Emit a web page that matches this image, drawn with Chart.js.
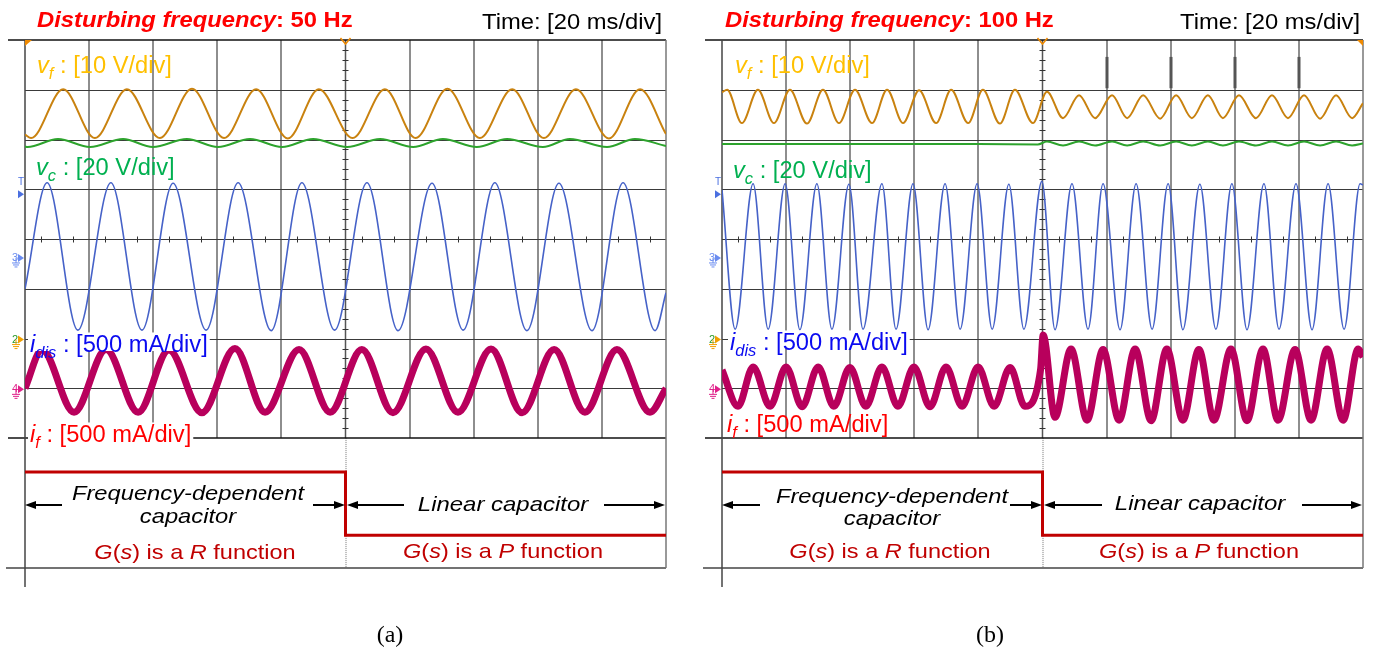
<!DOCTYPE html>
<html>
<head>
<meta charset="utf-8">
<title>Disturbing frequency scope captures</title>
<script src="https://cdn.jsdelivr.net/npm/chart.js"></script>
<style>
    body { margin: 0; background: #fff; }
    .panel { position: absolute; top: 0; width: 690px; height: 652px; }
</style>
</head>
<body>
<div class="panel" style="left:0"><canvas id="scope50" width="690" height="652"></canvas></div>
<div class="panel" style="left:690px"><canvas id="scope100" width="690" height="652"></canvas></div>
<script>
// time in ms (20 ms/div), levels in screen divisions (+4 top of screen, -4 bottom)
const timeGrid = [0, 20, 40, 60, 80, 100, 120, 140, 160, 180, 200];
const levelGrid = [4, 3, 2, 1, 0, -1, -2, -3, -4];
const stripBottom = -6.61;

// 50 Hz capture : turning points of each trace
const vfTime50 = [0, 1.9, 11.9, 21.8, 31.8, 42.1, 52.1, 62.1, 72.1, 82.0, 91.7, 102.2, 112.3, 121.9, 131.8, 141.9, 152.0, 161.9, 171.9, 182.2, 191.9, 200];
const vfLevel50 = [2.10, 2.03, 3.01, 2.03, 3.01, 2.03, 3.02, 2.03, 3.01, 2.02, 3.01, 2.03, 3.01, 2.03, 3.02, 2.03, 3.01, 2.03, 3.01, 2.02, 3.01, 2.11];
const vcTime50 = [0, 0.8, 10.3, 20.3, 30.6, 39.9, 50.5, 60.2, 70.2, 80.2, 89.9, 100.5, 110.8, 121.1, 130.4, 141.0, 150.4, 161.6, 170.0, 181.6, 190.3, 200];
const vcLevel50 = [1.86, 1.85, 2.01, 1.85, 2.01, 1.85, 2.01, 1.85, 2.01, 1.85, 2.01, 1.85, 2.01, 1.85, 2.01, 1.85, 2.01, 1.85, 2.01, 1.85, 2.01, 1.87];
const idisTime50 = [0, 6.9, 16.5, 26.8, 36.5, 46.2, 56.5, 66.5, 76.8, 86.4, 96.6, 106.7, 116.4, 127.0, 136.7, 146.6, 156.6, 166.6, 176.9, 186.6, 196.6, 200];
const idisLevel50 = [-1.00, 1.13, -1.83, 1.13, -1.83, 1.12, -1.83, 1.13, -1.84, 1.13, -1.83, 1.13, -1.84, 1.12, -1.83, 1.13, -1.84, 1.12, -1.84, 1.13, -1.84, -1.08];
const ifTime50 = [0, 5.3, 15.3, 25.3, 35.3, 44.9, 55.2, 65.5, 74.9, 85.5, 95.2, 105.1, 114.8, 125.1, 135.1, 145.4, 155.1, 165.1, 174.7, 184.7, 195.0, 200];
const ifLevel50 = [-3.00, -2.23, -3.48, -2.22, -3.48, -2.23, -3.49, -2.20, -3.48, -2.22, -3.48, -2.22, -3.49, -2.21, -3.48, -2.21, -3.49, -2.22, -3.48, -2.22, -3.48, -3.00];

// 100 Hz capture
const vfTime100 = [0, 1.6, 6.2, 11.2, 16.2, 21.2, 26.5, 31.5, 36.5, 41.5, 46.8, 51.5, 56.5, 61.5, 66.8, 71.5, 76.8, 81.4, 86.7, 91.4,
    97.0, 101.4, 106.4, 111.4, 116.4, 121.7, 126.4, 131.4, 136.7, 141.7, 146.6, 151.6, 156.3, 161.3, 166.6, 171.6, 176.6, 181.6, 186.6, 191.6, 196.6, 200];
const vfLevel100 = [2.95, 3.00, 2.33, 3.00, 2.33, 3.00, 2.32, 3.00, 2.33, 3.00, 2.33, 3.00, 2.33, 2.99, 2.33, 3.00, 2.33, 3.00, 2.32, 3.00,
    2.33, 2.96, 2.43, 2.89, 2.43, 2.89, 2.43, 2.89, 2.42, 2.89, 2.43, 2.89, 2.43, 2.89, 2.43, 2.89, 2.43, 2.89, 2.42, 2.89, 2.43, 2.73];
const vcTime100 = [0, 40, 80, 98.5, 101.4, 106.4, 111.4, 116.4, 121.7, 126.4, 131.4, 136.7, 141.7, 146.6, 151.6, 156.3, 161.3, 166.6, 171.6, 176.6, 181.6, 186.6, 191.6, 196.6, 200];
const vcLevel100 = [1.91, 1.91, 1.91, 1.90, 1.96, 1.88, 1.96, 1.88, 1.96, 1.88, 1.96, 1.88, 1.96, 1.88, 1.96, 1.88, 1.96, 1.88, 1.96, 1.88, 1.96, 1.88, 1.96, 1.88, 1.92];
const idisTime100 = [0, 4.1, 9.7, 14.4, 19.7, 24.3, 29.6, 34.3, 39.6, 44.0, 49.9, 54.3, 59.6, 64.3, 69.6, 74.3, 79.6, 84.3, 89.5, 94.2, 99.8,
    103.9, 109.2, 114.2, 118.9, 124.2, 129.2, 134.2, 139.2, 143.8, 149.1, 154.1, 159.1, 163.8, 169.1, 173.8, 179.1, 184.1, 189.1, 194.1, 199.1, 200];
const idisLevel100 = [0.99, -1.81, 1.11, -1.81, 1.11, -1.82, 1.11, -1.81, 1.10, -1.81, 1.11, -1.81, 1.11, -1.82, 1.11, -1.81, 1.11, -1.81, 1.10, -1.81, 1.16,
    -1.82, 1.11, -1.81, 1.11, -1.82, 1.11, -1.81, 1.11, -1.82, 1.10, -1.81, 1.11, -1.82, 1.11, -1.81, 1.11, -1.82, 1.11, -1.81, 1.11, 1.09];
const ifTime100 = [0, 5.0, 9.7, 15.0, 20.0, 25.0, 30.0, 34.9, 39.9, 44.9, 49.9, 54.9, 59.9, 64.9, 69.9, 74.9, 79.9, 84.9, 89.9, 94.5, 99.4, 100.2,
    103.9, 108.9, 113.9, 118.9, 123.9, 128.9, 133.9, 138.8, 143.8, 148.8, 153.5, 158.8, 163.8, 168.8, 173.5, 178.8, 183.8, 188.8, 193.8, 198.5, 200];
const ifLevel100 = [-2.63, -3.36, -2.57, -3.36, -2.57, -3.37, -2.57, -3.36, -2.58, -3.36, -2.57, -3.36, -2.57, -3.37, -2.57, -3.36, -2.57, -3.36, -2.58, -3.36, -2.62, -1.93,
    -3.58, -2.21, -3.64, -2.22, -3.64, -2.21, -3.65, -2.21, -3.64, -2.22, -3.64, -2.21, -3.65, -2.21, -3.64, -2.22, -3.64, -2.21, -3.64, -2.21, -2.37];
const glitchTime100 = [120, 140, 160, 180];

// mode signal: frequency-dependent capacitor, then linear capacitor
const modeTime = [0, 100, 200];
const modeLevel = [-4.68, -5.95, -5.95];

const FONT = '"Liberation Sans", Arial, sans-serif';

const trace = (times, levels) => times.map((t, i) => ({ x: t, y: levels[i] }));

function fontOf(run, size) {
    const px = run.sub ? Math.round(size * 0.68) : size;
    return (run.it ? 'italic ' : '') + (run.bold ? 'bold ' : '') + px + 'px ' + FONT;
}

// draws a line of mixed italic / subscript pieces
function textRuns(ctx, runs, x, y, size, color, align, stretch, box) {
    ctx.save();
    let w = 0;
    runs.forEach(r => { ctx.font = fontOf(r, size); w += ctx.measureText(r.t).width; });
    w *= stretch;
    const left = align === 'center' ? x - w / 2 : align === 'right' ? x - w : x;
    if (box) {
        ctx.fillStyle = '#fff';
        ctx.fillRect(left - 2, y - size * 0.85, w + 4, size * 0.85 - 1);
    }
    ctx.translate(left, y);
    ctx.scale(stretch, 1);
    ctx.fillStyle = color;
    ctx.textBaseline = 'alphabetic';
    ctx.textAlign = 'left';
    let cx = 0;
    runs.forEach(r => {
        ctx.font = fontOf(r, size);
        ctx.fillText(r.t, cx, r.sub ? size * 0.26 : 0);
        cx += ctx.measureText(r.t).width;
    });
    ctx.restore();
}

function seg(ctx, x0, y0, x1, y1) {
    ctx.beginPath();
    ctx.moveTo(x0, y0);
    ctx.lineTo(x1, y1);
    ctx.stroke();
}

// horizontal arrow, head at x1
function arrow(ctx, x0, x1, y) {
    const dir = x1 > x0 ? 1 : -1;
    ctx.save();
    ctx.strokeStyle = '#000';
    ctx.fillStyle = '#000';
    ctx.lineWidth = 2;
    seg(ctx, x0, y, x1 - dir * 8, y);
    ctx.beginPath();
    ctx.moveTo(x1, y);
    ctx.lineTo(x1 - dir * 11, y - 4);
    ctx.lineTo(x1 - dir * 11, y + 4);
    ctx.closePath();
    ctx.fill();
    ctx.restore();
}

// probe marker on the left edge: channel number, arrow and ground sign
function probeMark(ctx, x, y, num, numColor, arrowColor, ground) {
    ctx.save();
    ctx.font = '11px ' + FONT;
    ctx.fillStyle = numColor;
    ctx.textBaseline = 'middle';
    ctx.fillText(num, x - 12, y);
    ctx.fillStyle = arrowColor;
    ctx.beginPath();
    ctx.moveTo(x - 6, y - 4);
    ctx.lineTo(x, y);
    ctx.lineTo(x - 6, y + 4);
    ctx.closePath();
    ctx.fill();
    if (ground) {
        ctx.strokeStyle = arrowColor;
        ctx.lineWidth = 1;
        seg(ctx, x - 8, y, x - 8, y + 5);
        seg(ctx, x - 12, y + 5, x - 4, y + 5);
        seg(ctx, x - 11, y + 7, x - 5, y + 7);
        seg(ctx, x - 9.5, y + 9, x - 6.5, y + 9);
    }
    ctx.restore();
}

function scopeFrame(p) {
    return {
        id: 'scopeFrame',
        beforeDatasetsDraw(chart) {
            const { ctx, chartArea: a, scales: { x, y } } = chart;
            const yTop = y.getPixelForValue(4);
            const yBot = y.getPixelForValue(-4);
            const xMid = x.getPixelForValue(100);
            ctx.save();
            ctx.lineCap = 'butt';

            // vertical divisions
            ctx.strokeStyle = '#8e8e8e';
            ctx.lineWidth = 2;
            timeGrid.forEach(t => {
                if (t === 0 || t === 100 || t === 200) return;
                const px = Math.round(x.getPixelForValue(t));
                seg(ctx, px, yTop, px, yBot);
            });
            // horizontal divisions
            ctx.strokeStyle = '#3a3a3a';
            ctx.lineWidth = 1.2;
            levelGrid.forEach(v => {
                if (Math.abs(v) === 4) return;
                const py = Math.round(y.getPixelForValue(v)) + 0.5;
                seg(ctx, a.left, py, a.right, py);
            });
            // dark marks near the top of some divisions
            ctx.strokeStyle = '#555';
            ctx.lineWidth = 3;
            (p.glitches || []).forEach(t => {
                const px = Math.round(x.getPixelForValue(t));
                seg(ctx, px, y.getPixelForValue(3.66), px, y.getPixelForValue(3.03));
            });

            // centre axes with minor ticks
            ctx.strokeStyle = '#555';
            ctx.lineWidth = 1.5;
            seg(ctx, xMid, yTop, xMid, yBot);
            ctx.strokeStyle = '#333';
            ctx.lineWidth = 1;
            for (let v = -3.8; v < 3.9; v += 0.2) {
                const py = Math.round(y.getPixelForValue(v)) + 0.5;
                seg(ctx, xMid - 3, py, xMid + 3, py);
            }
            const y0 = Math.round(y.getPixelForValue(0)) + 0.5;
            for (let t = 5; t < 200; t += 10) {
                const px = Math.round(x.getPixelForValue(t)) + 0.5;
                seg(ctx, px, y0 - 3, px, y0 + 3);
            }
            ctx.setLineDash([1, 1]);
            ctx.strokeStyle = '#777';
            seg(ctx, xMid + 0.5, yBot, xMid + 0.5, a.bottom);
            ctx.setLineDash([]);

            // frame
            ctx.strokeStyle = '#111';
            ctx.lineWidth = 1.5;
            seg(ctx, a.left - 17, yTop, a.right, yTop);
            seg(ctx, a.left - 17, yBot, a.right, yBot);
            ctx.strokeStyle = '#444';
            seg(ctx, a.left - 19, a.bottom, a.right, a.bottom);
            seg(ctx, a.left, yTop, a.left, a.bottom + 19);
            ctx.strokeStyle = '#777';
            seg(ctx, a.right, yTop, a.right, a.bottom);
            ctx.restore();
        },
        afterDatasetsDraw(chart) {
            const { ctx, chartArea: a, scales: { x, y } } = chart;
            const yTop = y.getPixelForValue(4);
            const xMid = x.getPixelForValue(100);
            const L = p.layout;

            ctx.save();
            // trigger and position markers
            ctx.strokeStyle = '#F08A00';
            ctx.lineWidth = 1.5;
            ctx.beginPath();
            ctx.moveTo(xMid - 5, yTop - 2);
            ctx.lineTo(xMid, yTop + 4);
            ctx.lineTo(xMid + 5, yTop - 2);
            ctx.stroke();
            ctx.fillStyle = '#F08A00';
            ctx.beginPath();
            if (p.cornerRight) {
                ctx.moveTo(a.right - 6, yTop);
                ctx.lineTo(a.right, yTop);
                ctx.lineTo(a.right, yTop + 6);
            } else {
                ctx.moveTo(a.left, yTop);
                ctx.lineTo(a.left + 7, yTop);
                ctx.lineTo(a.left, yTop + 6);
            }
            ctx.closePath();
            ctx.fill();
            ctx.restore();

            ctx.save();
            ctx.font = '10px ' + FONT;
            ctx.fillStyle = '#4a6fe0';
            ctx.textBaseline = 'middle';
            ctx.fillText('T', a.left - 7, y.getPixelForValue(1.15));
            ctx.restore();
            probeMark(ctx, a.left - 1, y.getPixelForValue(0.9), '', '#4a6fe0', '#4a6fe0', false);
            probeMark(ctx, a.left - 1, y.getPixelForValue(-0.38), '3', '#6a8cf0', '#6a8cf0', true);
            probeMark(ctx, a.left - 1, y.getPixelForValue(-2.02), '2', '#2a9a2a', '#F0A000', true);
            probeMark(ctx, a.left - 1, y.getPixelForValue(-3.02), '4', '#E0208A', '#E0208A', true);

            // headings
            textRuns(ctx, [{ t: 'Disturbing frequency', it: true, bold: true }, { t: ': ' + p.freq, bold: true }],
                L.titleX, 27, 22, '#FF0000', 'left', 1.08, false);
            textRuns(ctx, [{ t: 'Time: [20 ms/div]' }], L.timeX, 29, 22, '#000', 'right', 1.08, false);

            // channel scales
            textRuns(ctx, [{ t: 'v', it: true }, { t: 'f', it: true, sub: true }, { t: ' : [10 V/div]' }],
                L.vf[0], L.vf[1], 23, '#FFC000', 'left', 1.03, false);
            textRuns(ctx, [{ t: 'v', it: true }, { t: 'c', it: true, sub: true }, { t: ' : [20 V/div]' }],
                L.vc[0], L.vc[1], 23, '#00B050', 'left', 1.03, false);
            textRuns(ctx, [{ t: 'i', it: true }, { t: 'dis', it: true, sub: true }, { t: ' : [500 mA/div]' }],
                L.idis[0], L.idis[1], 23, '#0A0AF0', 'left', 1.03, true);
            textRuns(ctx, [{ t: 'i', it: true }, { t: 'f', it: true, sub: true }, { t: ' : [500 mA/div]' }],
                L.iff[0], L.iff[1], 23, '#FF0000', 'left', 1.03, L.iff[2]);

            // mode strip
            textRuns(ctx, [{ t: 'Frequency-dependent', it: true }], L.fd[0], L.fd[1], 21, '#000', 'center', 1.13, false);
            textRuns(ctx, [{ t: 'capacitor', it: true }], L.fd[0], L.fd[2], 21, '#000', 'center', 1.13, false);
            textRuns(ctx, [{ t: 'Linear capacitor', it: true }], L.lc[0], L.lc[1], 21, '#000', 'center', 1.14, false);
            textRuns(ctx, [{ t: 'G', it: true }, { t: '(' }, { t: 's', it: true }, { t: ') is a ' }, { t: 'R', it: true }, { t: ' function' }],
                L.gr[0], L.gr[1], 21, '#C00000', 'center', 1.12, false);
            textRuns(ctx, [{ t: 'G', it: true }, { t: '(' }, { t: 's', it: true }, { t: ') is a ' }, { t: 'P', it: true }, { t: ' function' }],
                L.gp[0], L.gp[1], 21, '#C00000', 'center', 1.12, false);
            L.arrows.forEach(ar => arrow(ctx, ar[0], ar[1], L.arrowY));

            ctx.save();
            ctx.font = '24px "Liberation Serif", "Times New Roman", serif';
            ctx.fillStyle = '#000';
            ctx.textAlign = 'center';
            ctx.fillText(p.caption, L.capX, 642);
            ctx.restore();
        }
    };
}

function buildScope(p) {
    const wave = (times, levels, color, width) => ({
        data: trace(times, levels),
        borderColor: color,
        borderWidth: width,
        cubicInterpolationMode: 'monotone'
    });
    return new Chart(document.getElementById(p.canvas), {
        type: 'line',
        data: {
            datasets: [
                wave(p.vfTime, p.vfLevel, '#C9820F', 2),
                wave(p.vcTime, p.vcLevel, '#2DA32D', 2),
                wave(p.idisTime, p.idisLevel, '#4662C8', 1.6),
                wave(p.ifTime, p.ifLevel, '#B8005C', 7),
                { data: trace(modeTime, modeLevel), borderColor: '#C00000', borderWidth: 3, stepped: 'before' }
            ]
        },
        options: {
            responsive: false,
            animation: false,
            layout: { padding: { left: p.padLeft, right: p.padRight, top: 40, bottom: 84 } },
            elements: { point: { radius: 0 } },
            scales: {
                x: { type: 'linear', min: 0, max: 200, display: false },
                y: { type: 'linear', min: stripBottom, max: 4, display: false }
            },
            plugins: { legend: { display: false }, tooltip: { enabled: false } }
        },
        plugins: [scopeFrame(p)]
    });
}

buildScope({
    canvas: 'scope50', freq: '50 Hz', caption: '(a)', padLeft: 25, padRight: 24,
    vfTime: vfTime50, vfLevel: vfLevel50, vcTime: vcTime50, vcLevel: vcLevel50,
    idisTime: idisTime50, idisLevel: idisLevel50, ifTime: ifTime50, ifLevel: ifLevel50,
    layout: {
        titleX: 37, timeX: 662,
        vf: [37, 73], vc: [36, 175], idis: [30, 352], iff: [30, 442, true],
        fd: [188, 500, 523], lc: [503, 511], gr: [195, 559], gp: [503, 558],
        arrowY: 505, arrows: [[62, 25], [313, 345], [404, 347], [604, 665]],
        capX: 390
    }
});

buildScope({
    canvas: 'scope100', freq: '100 Hz', caption: '(b)', padLeft: 32, padRight: 17, cornerRight: true,
    glitches: glitchTime100,
    vfTime: vfTime100, vfLevel: vfLevel100, vcTime: vcTime100, vcLevel: vcLevel100,
    idisTime: idisTime100, idisLevel: idisLevel100, ifTime: ifTime100, ifLevel: ifLevel100,
    layout: {
        titleX: 35, timeX: 670,
        vf: [45, 73], vc: [43, 178], idis: [40, 350], iff: [37, 432, false],
        fd: [202, 503, 525], lc: [510, 510], gr: [200, 558], gp: [509, 558],
        arrowY: 505, arrows: [[70, 32], [320, 352], [412, 354], [612, 672]],
        capX: 300
    }
});
</script>
</body>
</html>
